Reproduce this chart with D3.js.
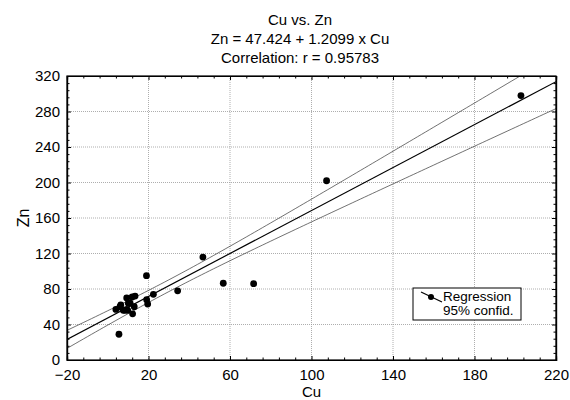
<!DOCTYPE html>
<html>
<head>
<meta charset="utf-8">
<script src="https://cdn.jsdelivr.net/npm/d3@7"></script>
<style>
body { margin: 0; background: #fff; }
svg text { font-family: "Liberation Sans", Arial, sans-serif; fill: #000; }
</style>
</head>
<body>
<div id="chart"></div>
<script>
// values
var cuValues = [4.0, 6.0, 6.4, 7.6, 8.5, 9.3, 9.8, 9.3, 10.1, 11.0, 12.0, 13.4, 13.0, 12.2, 5.5,
                19.0, 19.1, 19.6, 22.4, 34.3, 46.7, 56.7, 71.6, 107.4, 202.8];
var znValues = [57, 60, 62, 56, 56, 57, 56, 70, 64, 64, 71, 72, 60, 52, 29,
                95, 68, 63, 74, 78, 116, 86.5, 86, 202, 298];
var intercept = 47.424, slope = 1.2099;
var xTicks = [-20, 20, 60, 100, 140, 180, 220];
var yTicks = [0, 40, 80, 120, 160, 200, 240, 280, 320];
var titleLines = ["Cu vs. Zn", "Zn = 47.424 + 1.2099 x Cu", "Correlation: r = 0.95783"];
var legendLabels = ["Regression", "95% confid."];

var w = 570, h = 400;
var margin = {top: 76, right: 14, bottom: 40, left: 67},
    width = w - margin.left - margin.right,
    height = h - margin.top - margin.bottom;

var svg = d3.select("#chart").append("svg").attr("width", w).attr("height", h);
var g = svg.append("g").attr("transform", "translate(" + margin.left + "," + margin.top + ")");

var x = d3.scaleLinear().domain([-20, 220]).range([0, width]),
    y = d3.scaleLinear().domain([0, 320]).range([height, 0]);

var data = cuValues.map(function(c, i){ return {cu: c, zn: znValues[i]}; });

// 95% confidence band of the regression line
var n = data.length;
var meanX = d3.mean(data, function(d){ return d.cu; });
var sxx = d3.sum(data, function(d){ return Math.pow(d.cu - meanX, 2); });
var sse = d3.sum(data, function(d){ return Math.pow(d.zn - (intercept + slope*d.cu), 2); });
var s = Math.sqrt(sse / (n - 2));
var tval = 2.069;
function half(c){ return tval * s * Math.sqrt(1/n + Math.pow(c - meanX, 2)/sxx); }

svg.append("clipPath").attr("id", "clip")
  .append("rect").attr("width", width).attr("height", height);

// grid
g.append("g").selectAll("line").data(xTicks.slice(1, -1)).enter().append("line")
  .attr("x1", function(d){ return x(d); }).attr("x2", function(d){ return x(d); })
  .attr("y1", 0).attr("y2", height)
  .attr("stroke", "#999").attr("stroke-width", 0.8).attr("stroke-dasharray", "1,1");
g.append("g").selectAll("line").data(yTicks.slice(1, -1)).enter().append("line")
  .attr("y1", function(d){ return y(d); }).attr("y2", function(d){ return y(d); })
  .attr("x1", 0).attr("x2", width)
  .attr("stroke", "#999").attr("stroke-width", 0.8).attr("stroke-dasharray", "1,1");

// regression + bands
var xs = d3.range(-20, 221, 2);
var line = d3.line()
    .x(function(d){ return x(d[0]); })
    .y(function(d){ return y(d[1]); });
var plot = g.append("g").attr("clip-path", "url(#clip)");
plot.append("path")
  .datum(xs.map(function(c){ return [c, intercept + slope*c + half(c)]; }))
  .attr("fill", "none").attr("stroke", "#333").attr("stroke-width", 0.7).attr("d", line);
plot.append("path")
  .datum(xs.map(function(c){ return [c, intercept + slope*c - half(c)]; }))
  .attr("fill", "none").attr("stroke", "#333").attr("stroke-width", 0.7).attr("d", line);
plot.append("path")
  .datum([[-20, intercept + slope*-20], [220, intercept + slope*220]])
  .attr("fill", "none").attr("stroke", "#000").attr("stroke-width", 1.2).attr("d", line);

// points
g.append("g").selectAll("circle").data(data).enter().append("circle")
  .attr("cx", function(d){ return x(d.cu); })
  .attr("cy", function(d){ return y(d.zn); })
  .attr("r", 3.4).attr("fill", "#000");

// axes: ticks inside on all four sides
function minor(ticks){
  var out = [];
  for (var i = 0; i < ticks.length - 1; i++){
    var step = (ticks[i+1] - ticks[i]) / 5;
    for (var k = 1; k < 5; k++) out.push(ticks[i] + k*step);
  }
  return out;
}
var xMinor = minor(xTicks), yMinor = minor(yTicks);

g.append("g").attr("class", "axis axis--x")
  .attr("transform", "translate(0," + height + ")")
  .call(d3.axisBottom(x).tickValues(xTicks).tickSize(-4).tickPadding(9));
g.append("g").attr("transform", "translate(0," + height + ")")
  .call(d3.axisBottom(x).tickValues(xMinor).tickSize(-2.5).tickFormat(""));
g.append("g").call(d3.axisTop(x).tickValues(xTicks).tickSize(-4).tickFormat(""));
g.append("g").call(d3.axisTop(x).tickValues(xMinor).tickSize(-2.5).tickFormat(""));

g.append("g").attr("class", "axis axis--y")
  .call(d3.axisLeft(y).tickValues(yTicks).tickSize(-4).tickPadding(7));
g.append("g").call(d3.axisLeft(y).tickValues(yMinor).tickSize(-2.5).tickFormat(""));
g.append("g").attr("transform", "translate(" + width + ",0)")
  .call(d3.axisRight(y).tickValues(yTicks).tickSize(-4).tickFormat(""));
g.append("g").attr("transform", "translate(" + width + ",0)")
  .call(d3.axisRight(y).tickValues(yMinor).tickSize(-2.5).tickFormat(""));

g.selectAll(".domain").attr("stroke", "#000").attr("stroke-width", 1.2);
g.selectAll(".tick line").attr("stroke", "#000");
g.selectAll(".tick text").attr("font-size", 15).attr("font-family", "Liberation Sans, Arial, sans-serif");

g.append("rect").attr("width", width).attr("height", height)
  .attr("fill", "none").attr("stroke", "#000").attr("stroke-width", 1.2);

// titles
svg.append("g").selectAll("text").data(titleLines).enter().append("text")
  .attr("x", 300).attr("y", function(d, i){ return 25 + i*19; })
  .attr("text-anchor", "middle").attr("font-size", 15)
  .text(function(d){ return d; });

svg.append("text")
  .attr("transform", "translate(29," + (margin.top + y(160)) + ") rotate(-90)")
  .attr("text-anchor", "middle").attr("font-size", 16).text("Zn");
svg.append("text")
  .attr("x", margin.left + width/2).attr("y", 397)
  .attr("text-anchor", "middle").attr("font-size", 15).text("Cu");

// legend
var lg = svg.append("g").attr("transform", "translate(413,288)");
lg.append("rect").attr("width", 108).attr("height", 32)
  .attr("fill", "#fff").attr("stroke", "#000").attr("stroke-width", 1);
lg.append("line").attr("x1", 8).attr("y1", 4).attr("x2", 29).attr("y2", 14)
  .attr("stroke", "#000").attr("stroke-width", 1.2);
lg.append("circle").attr("cx", 18).attr("cy", 9).attr("r", 3).attr("fill", "#000");
lg.selectAll("text.lab").data(legendLabels).enter().append("text").attr("class", "lab")
  .attr("x", 30).attr("y", function(d, i){ return 13 + i*14; })
  .attr("font-size", 13.5).text(function(d){ return d; });
</script>
</body>
</html>
